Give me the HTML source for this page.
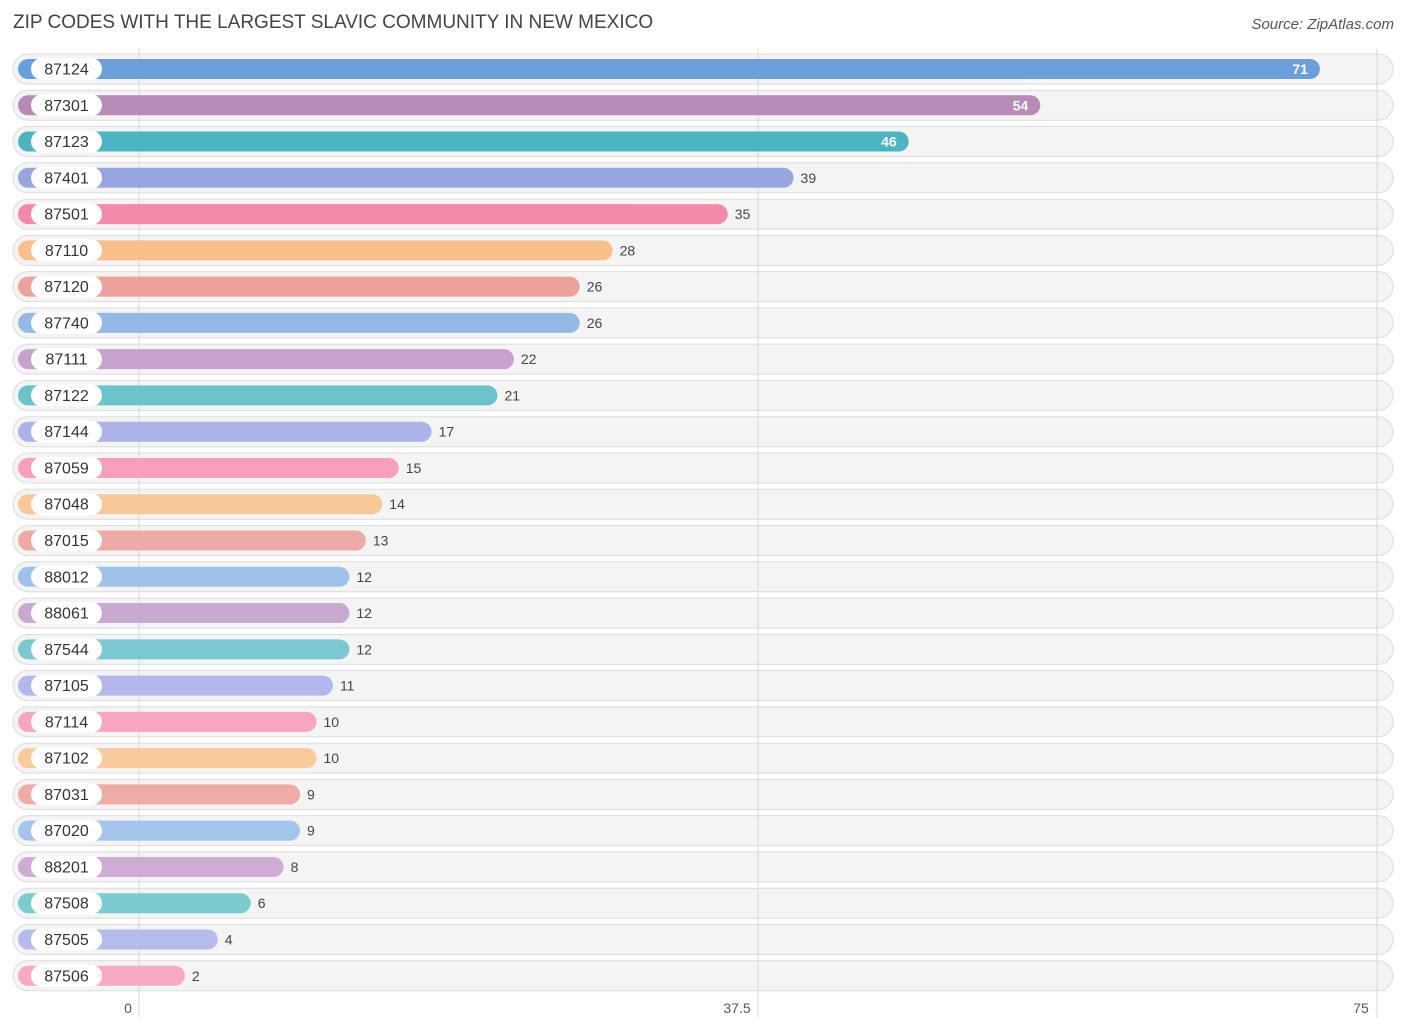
<!DOCTYPE html>
<html><head><meta charset="utf-8"><style>
body{margin:0;width:1406px;height:1029px;background:#fff;font-family:"Liberation Sans",sans-serif;position:relative;overflow:hidden}
#title{position:absolute;left:13px;top:12px;font-size:19px;color:#444}
#src{position:absolute;right:12px;top:16px;font-size:15px;font-style:italic;color:#555}
</style></head><body>
<div id="title">ZIP CODES WITH THE LARGEST SLAVIC COMMUNITY IN NEW MEXICO</div>
<div id="src">Source: ZipAtlas.com</div>
<svg id="chart" width="1406" height="1029" style="position:absolute;left:0;top:0"></svg>
<script>
const categories=["87124","87301","87123","87401","87501","87110","87120","87740","87111","87122","87144","87059","87048","87015","88012","88061","87544","87105","87114","87102","87031","87020","88201","87508","87505","87506"];
const values=[71,54,46,39,35,28,26,26,22,21,17,15,14,13,12,12,12,11,10,10,9,9,8,6,4,2];
const colors=["#6a9fdc","#b78ab8","#4db5c2","#98a6e0","#f48aaa","#f9c08b","#eca19a","#93b9e4","#c6a2cc","#6bc3cc","#abb3e8","#f7a0bb","#f9c897","#eeaaa5","#9fc2ea","#c9a9cf","#7cc8d2","#b2b8ec","#f7a5c2","#f9cb9c","#efaca7","#a4c5ec","#cdaed2","#7ccbd0","#b5bbee","#f8aac5"];
const tickValues=[0,37.5,75];
const tickLabels=["0","37.5","75"];
const NS="http://www.w3.org/2000/svg";
const svg=document.getElementById('chart');
const x=v=>152+16.45*v;
const gx=v=>139+(1377-139)*v/75;
const y=i=>69+i*36.27;
function mk(t,a,p){const e=document.createElementNS(NS,t);for(const k in a)e.setAttribute(k,a[k]);(p||svg).appendChild(e);return e;}
// tracks
categories.forEach((c,i)=>{
 const tr=mk('rect',{x:13,y:y(i)-15,width:1380,height:30,rx:15,fill:'#f4f4f4',stroke:'#dcdcdc','stroke-width':1});
 
 
});
tickValues.forEach((t,k)=>{
 const l=mk('line',{x1:gx(t),x2:gx(t),y1:48,y2:1018,stroke:'#d8d8d8','stroke-width':1});
 
 
 const tx=mk('text',{x:gx(t)-(k==0?11:(k==1?21:16)),y:1013,'font-size':14,fill:'#555','text-anchor':'middle'});
 tx.textContent=tickLabels[k];
 
 
});
categories.forEach((c,i)=>{
 const v=values[i],cy=y(i);
 const b=mk('rect',{x:18,y:cy-10,width:x(v)-18,height:20,rx:10,fill:colors[i]});
 
 
 const p=mk('rect',{x:31,y:cy-11,width:71,height:22,rx:11,fill:'#fff'});
 
 
 const lt=mk('text',{x:66.5,y:cy+5.5,'font-size':16,fill:'#333','text-anchor':'middle'});
 lt.textContent=c;
 
 
 const inside=i<3;
 const vt=mk('text',{x:inside?x(v)-12:x(v)+7,y:cy+5,'font-size':14,fill:inside?'#fff':'#444','text-anchor':inside?'end':'start','font-weight':inside?'bold':'normal'});
 vt.textContent=v;
 
 
});
</script>
</body></html>
